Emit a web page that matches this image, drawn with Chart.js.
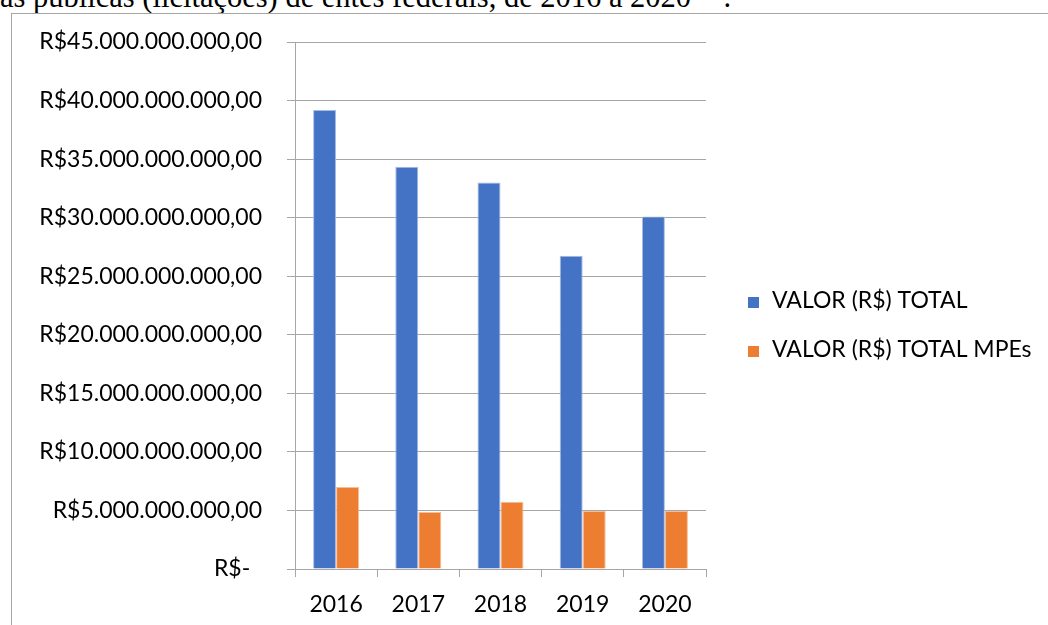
<!DOCTYPE html>
<html>
<head>
<meta charset="utf-8">
<script src="https://cdn.jsdelivr.net/npm/chart.js@4"></script>
<style>
  body { margin: 0; width: 1048px; height: 625px; overflow: hidden; background: #fff; position: relative; }
  #titulo { position: absolute; left: 0; top: -18px; font-family: "Liberation Serif", serif; font-size: 30.5px; line-height: 30px; white-space: nowrap; color: #000; }
  #titulo sup { font-size: 19px; line-height: 0; margin-left: 8px; margin-right: 6px; }
  #marco { position: absolute; left: 11px; top: 13px; width: 1100px; height: 700px; border-left: 1px solid #a6a6a6; border-top: 1px solid #a6a6a6; }
  #caja { position: absolute; left: 0; top: 0; width: 1048px; height: 625px; }
</style>
</head>
<body>
<div id="titulo">as públicas (licitações) de entes federais, de 2016 a 2020<sup>11</sup>.</div>
<div id="marco"></div>
<div id="caja"><canvas id="grafico"></canvas></div>
<script>
var anos = ['2016', '2017', '2018', '2019', '2020'];
var valorTotal = [39.2e9, 34.35e9, 33.0e9, 26.75e9, 30.1e9]; // VALOR (R$) TOTAL
var valorMPEs = [7.0e9, 4.87e9, 5.75e9, 4.96e9, 4.96e9];     // VALOR (R$) TOTAL MPEs
var ejeMax = 45e9;
var ejePaso = 5e9;

var fuente = 'Lato, "Open Sans", sans-serif';
var gris = '#a6a6a6';

// formato moneda brasileña: R$45.000.000.000,00 y R$- para cero
function formatoReal(v) {
    if (v === 0) return 'R$-\u00a0\u00a0';
    var entero = Math.round(v).toString().replace(/\B(?=(\d{3})+(?!\d))/g, '.');
    return 'R$' + entero + ',00';
}

// leyenda a la derecha como en Excel (la de Chart.js se recorta por el ancho maximo)
var leyendaDerecha = {
    id: 'leyendaDerecha',
    afterDraw: function(chart) {
        var c = chart.ctx;
        var x = 748, lado = 11;
        var bases = [308, 357];
        c.save();
        c.font = '23px ' + fuente;
        c.textBaseline = 'alphabetic';
        c.textAlign = 'left';
        chart.data.datasets.forEach(function(ds, i) {
            c.fillStyle = ds.backgroundColor;
            c.fillRect(x, bases[i] - lado, lado, lado);
            c.fillStyle = '#000';
            c.fillText(ds.label, x + 24, bases[i]);
        });
        c.restore();
    }
};

var ctx = document.getElementById('grafico').getContext('2d');
var grafico = new Chart(ctx, {
    type: 'bar',
    data: {
        labels: anos,
        datasets: [
            {
                label: 'VALOR (R$) TOTAL',
                data: valorTotal,
                backgroundColor: '#4472C4',
                borderColor: '#a9bde4',
                borderWidth: 1,
                borderSkipped: 'bottom'
            },
            {
                label: 'VALOR (R$) TOTAL MPEs',
                data: valorMPEs,
                backgroundColor: '#ED7D31',
                borderColor: '#f6bd97',
                borderWidth: 1,
                borderSkipped: 'bottom'
            }
        ]
    },
    options: {
        responsive: true,
        maintainAspectRatio: false,
        animation: false,
        layout: {
            padding: { top: 42, left: 0, right: 342, bottom: 0 }
        },
        datasets: {
            bar: { categoryPercentage: 0.56, barPercentage: 1.0 }
        },
        plugins: {
            tooltip: { enabled: false },
            legend: { display: false }
        },
        scales: {
            x: {
                offset: true,
                grid: {
                    offset: true,
                    drawOnChartArea: false,
                    drawTicks: true,
                    tickLength: 8,
                    color: gris
                },
                border: { display: true, color: gris },
                ticks: {
                    color: '#000',
                    font: { family: fuente, size: 23 },
                    padding: 14
                },
                afterFit: function(escala) { escala.height = 56; }
            },
            y: {
                min: 0,
                max: ejeMax,
                grid: {
                    color: gris,
                    tickLength: 8,
                    drawTicks: true
                },
                border: { display: true, color: gris },
                ticks: {
                    stepSize: ejePaso,
                    color: '#000',
                    font: { family: fuente, size: 23 },
                    padding: 25,
                    callback: function(valor) { return formatoReal(valor); }
                },
                afterFit: function(escala) { escala.width = 295; }
            }
        }
    },
    plugins: [leyendaDerecha]
});
</script>
</body>
</html>
